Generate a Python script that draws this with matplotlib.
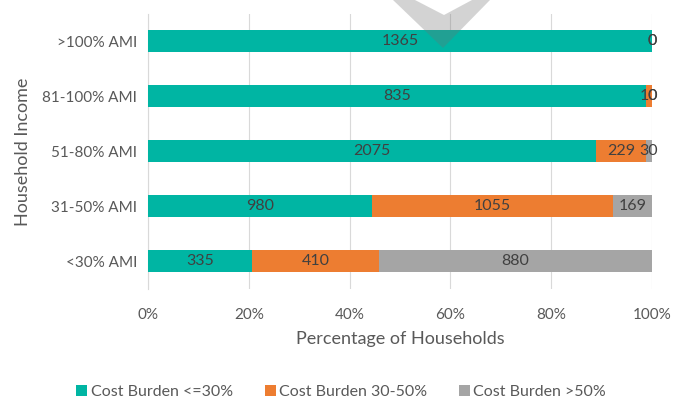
import matplotlib
matplotlib.use("Agg")
import matplotlib.pyplot as plt
from matplotlib.patches import Polygon
import numpy as np

categories = ["<30% AMI", "31-50% AMI", "51-80% AMI", "81-100% AMI", ">100% AMI"]
burden_low = [335, 980, 2075, 835, 1365]
burden_mid = [410, 1055, 229, 10, 0]
burden_high = [880, 169, 30, 0, 0]
series_names = ["Cost Burden <=30%", "Cost Burden 30-50%", "Cost Burden >50%"]
colors = ["#00B5A3", "#ED7D31", "#A5A5A5"]
xticks = [0, 0.2, 0.4, 0.6, 0.8, 1.0]
xticklabels = ["0%", "20%", "40%", "60%", "80%", "100%"]

plt.rcParams['font.family'] = ['Lato', 'DejaVu Sans']
fig = plt.figure(figsize=(6.73, 4.03), dpi=100)
ax = fig.add_axes([0.22, 0.2829, 0.7488, 0.6824])

data = np.array([burden_low, burden_mid, burden_high], dtype=float)
totals = data.sum(axis=0)
frac = data / totals
y = np.arange(len(categories))
left = np.zeros(len(categories))
for i in range(3):
    ax.barh(y, frac[i], left=left, height=0.4, color=colors[i], label=series_names[i], zorder=3)
    for j in range(len(categories)):
        ax.text(left[j] + frac[i][j] / 2, y[j], f"{int(data[i][j])}", ha="center", va="center",
                fontsize=11.5, color="#404040", zorder=4)
    left = left + frac[i]

ax.set_xlim(0, 1)
ax.set_ylim(-0.5, 4.5)
ax.set_yticks(y)
ax.set_yticklabels(categories, fontsize=11, color="#595959")
ax.set_xticks(xticks)
ax.set_xticklabels(xticklabels, fontsize=11, color="#595959")
ax.tick_params(length=0, pad=8)
ax.tick_params(axis="x", pad=14)
ax.grid(axis="x", color="#D9D9D9", linewidth=0.8, zorder=0)
for s in ["top", "right", "bottom"]:
    ax.spines[s].set_visible(False)
ax.spines["left"].set_color("#D9D9D9")
ax.set_xlabel("Percentage of Households", fontsize=13, color="#595959", labelpad=6)
ax.set_ylabel("Household Income", fontsize=13, color="#595959", labelpad=8)

leg = fig.legend(loc="center", bbox_to_anchor=(0.507, 0.027), ncol=3, frameon=False,
                 fontsize=11.5, handlelength=0.7, handleheight=0.7, handletextpad=0.2,
                 columnspacing=2.0, labelcolor="#595959")

# watermark chevron
W, H = 673, 403
def fc(px, py):
    return (px / W, 1 - py / H)
pts = [fc(393, 0), fc(443, 48), fc(490, 0), fc(472, 0), fc(444, 15), fc(415, 0)]
chev = Polygon(pts, closed=True, transform=fig.transFigure,
               facecolor="#707070", alpha=0.3, edgecolor="none", zorder=10)
fig.patches.append(chev)

fig.savefig("out.png", dpi=100)
